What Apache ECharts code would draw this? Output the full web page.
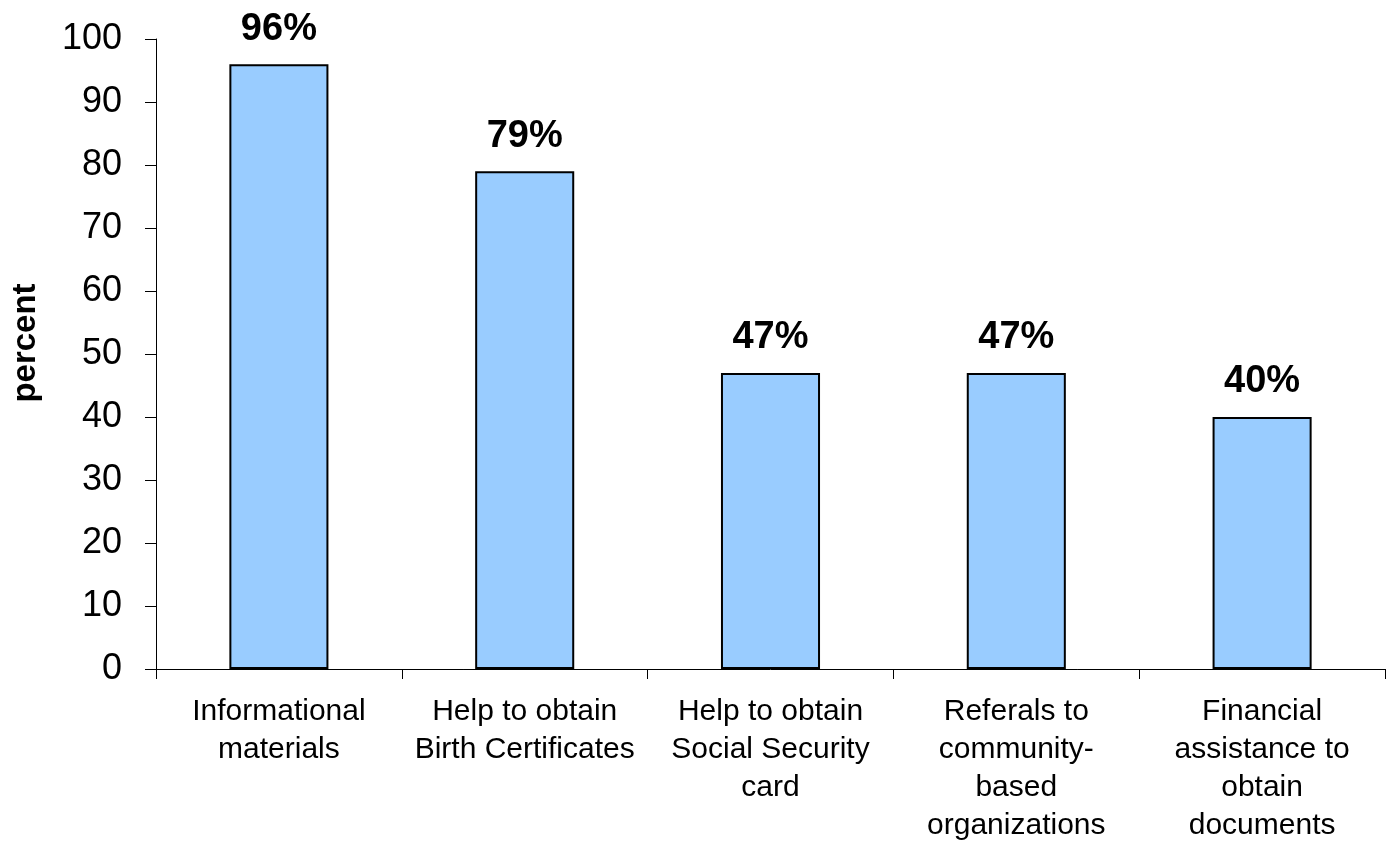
<!DOCTYPE html>
<html>
<head>
<meta charset="utf-8">
<script src="https://cdn.jsdelivr.net/npm/echarts@6/dist/echarts.min.js"></script>
<style>
html,body{margin:0;padding:0;background:#fff;}
#chart{width:1388px;height:848px;}
</style>
</head>
<body>
<div id="chart"></div>
<script>
const categories = [
  "Informational\nmaterials",
  "Help to obtain\nBirth Certificates",
  "Help to obtain\nSocial Security\ncard",
  "Referals to\ncommunity-\nbased\norganizations",
  "Financial\nassistance to\nobtain\ndocuments"
];
const values = [96, 79, 47, 47, 40];
const yTicks = { min: 0, max: 100, interval: 10 };
const yAxisTitle = "percent";

const chart = echarts.init(document.getElementById('chart'), null, {renderer: 'canvas'});
const FONT = '"Liberation Sans", Arial, sans-serif';
chart.setOption({
  animation: false,
  backgroundColor: '#ffffff',
  grid: { left: 156, right: 3, top: 39, bottom: 179, containLabel: false },
  xAxis: {
    type: 'category',
    data: categories,
    boundaryGap: true,
    axisLine: { show: true, lineStyle: { color: '#000', width: 1 } },
    axisTick: { show: true, length: 10, alignWithLabel: false, lineStyle: { color: '#000', width: 1 } },
    axisLabel: {
      interval: 0, color: '#000', fontFamily: FONT, fontSize: 30, lineHeight: 38,
      margin: 24, align: 'center'
    },
    splitLine: { show: false }
  },
  yAxis: {
    type: 'value',
    min: yTicks.min, max: yTicks.max, interval: yTicks.interval,
    name: yAxisTitle,
    nameLocation: 'middle',
    nameGap: 114,
    nameRotate: 90,
    nameTextStyle: { color: '#000', fontFamily: FONT, fontSize: 33, fontWeight: 'bold', padding: [0, 0, 0, 22] },
    axisLine: { show: true, lineStyle: { color: '#000', width: 1 } },
    axisTick: { show: true, length: 11, lineStyle: { color: '#000', width: 1 } },
    axisLabel: { color: '#000', fontFamily: FONT, fontSize: 36, margin: 34 },
    splitLine: { show: false }
  },
  series: [{
    type: 'bar',
    data: values,
    barWidth: '40.3%',
    itemStyle: { color: '#99CCFF', borderColor: '#000', borderWidth: 2 },
    label: {
      show: true, position: 'top', distance: 16,
      formatter: p => p.value + '%',
      color: '#000', fontFamily: FONT, fontSize: 38, fontWeight: 'bold'
    }
  }]
});
</script>
</body>
</html>
